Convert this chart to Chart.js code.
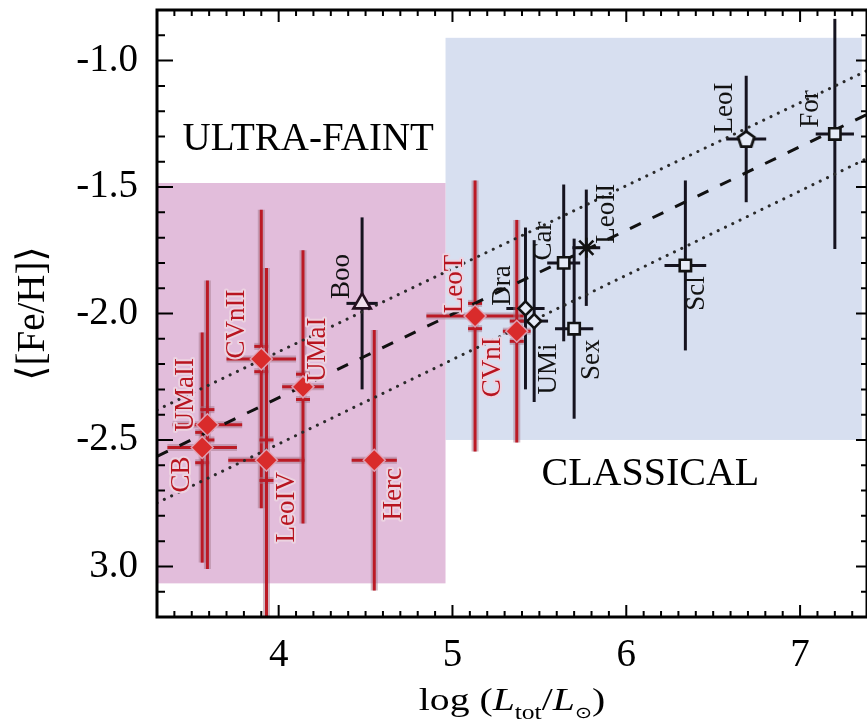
<!DOCTYPE html>
<html>
<head>
<meta charset="utf-8">
<script src="https://cdn.jsdelivr.net/npm/chart.js@4.4.1/dist/chart.umd.min.js"></script>
<style>
  html, body { margin: 0; padding: 0; background: #fff; }
  canvas { display: block; }
</style>
</head>
<body>
<canvas id="chart" width="867" height="723"></canvas>
<script>
// Ultra-faint dwarfs: log(L_tot/L_sun), mean [Fe/H] and their errors
const ufdNames     = ['CB', 'UMaII', 'CVnII', 'LeoIV', 'UMaI', 'Herc', 'LeoT', 'CVnI'];
const ufdLogL      = [3.56, 3.59, 3.90, 3.93, 4.14, 4.55, 5.13, 5.37];
const ufdFeH       = [-2.53, -2.44, -2.18, -2.58, -2.29, -2.58, -2.01, -2.07];
const ufdLogLErr   = [0.20, 0.20, 0.20, 0.22, 0.12, 0.13, 0.28, 0.08];
const ufdFeHErr    = [0.455, 0.57, 0.59, 0.76, 0.54, 0.515, 0.536, 0.44];
const ufdFeHErrSys = [0.06, 0.06, 0.05, 0.08, 0.05, 0.00, 0.05, 0.04];

// Classical dwarfs (and Bootes I)
const clsNames     = ['Boo', 'Dra', 'UMi', 'Car', 'LeoII', 'Sex', 'Scl', 'LeoI', 'For'];
const clsLogL      = [4.48, 5.42, 5.47, 5.64, 5.77, 5.70, 6.34, 6.69, 7.20];
const clsFeH       = [-1.96, -1.98, -2.03, -1.80, -1.74, -2.06, -1.81, -1.31, -1.29];
const clsLogLErr   = [0.09, 0.11, 0.08, 0.095, 0.08, 0.11, 0.12, 0.115, 0.11];
const clsFeHErr    = [0.34, 0.32, 0.32, 0.31, 0.23, 0.356, 0.336, 0.25, 0.455];

// Luminosity-metallicity relation and its scatter envelope (end points)
const relLogL      = [3.3, 7.385];
const relFeH       = [-2.565, -1.213];
const relUpperFeH  = [-2.381, -1.040];
const relLowerFeH  = [-2.749, -1.387];

// Shaded regimes
const ufdBoxLogL   = [3.3, 4.96];
const ufdBoxFeH    = [-3.067, -1.484];
const clsBoxLogL   = [4.96, 7.355];
const clsBoxFeH    = [-2.50, -0.91];

// Axis ticks
const xTickValues  = [4, 5, 6, 7];
const xTickLabels  = ['4', '5', '6', '7'];
const yTickValues  = [-3.0, -2.5, -2.0, -1.5, -1.0];
const yTickLabels  = ['3.0', '-2.5', '-2.0', '-1.5', '-1.0'];

// ---- styling -------------------------------------------------------------
const SERIF = '"Liberation Serif", "Times New Roman", "DejaVu Serif", serif';
const RED = '#bb1a25';
const RED_FILL = '#d92b2b';
const INK = '#121212';
const PINK_BG = '#e2bddb';
const BLUE_BG = '#d7dff0';

// label centre offsets from each marker, in pixels
const ufdLabelOffset = [[-20, 27], [-21, -30], [-24, -35], [20, 47], [15, -37], [20, 34], [-20, -32], [-24, 36]];
const clsLabelOffset = [[-20, -27], [-23, -23], [15, 48], [-20, -22], [21, -34], [18, 31], [12, 28], [-21, -31], [-24, -25]];

const regimeText = [
  { text: 'ULTRA-FAINT', x: 3.447, y: -1.352, size: 39 },
  { text: 'CLASSICAL',   x: 5.512, y: -2.678, size: 40 }
];

// open pentagon marker
const pentagon = (() => {
  const s = 26, c = document.createElement('canvas');
  c.width = s; c.height = s;
  const g = c.getContext('2d');
  g.beginPath();
  for (let i = 0; i < 5; i++) {
    const a = -Math.PI / 2 + i * 2 * Math.PI / 5;
    const px = s / 2 + 8.5 * Math.cos(a), py = s / 2 + 0.8 + 8.5 * Math.sin(a);
    if (i) g.lineTo(px, py); else g.moveTo(px, py);
  }
  g.closePath();
  g.fillStyle = '#e6ebf6';
  g.fill();
  g.lineWidth = 2.8;
  g.strokeStyle = INK;
  g.stroke();
  return c;
})();

const clsStyle  = ['triangle', 'rectRot', 'rectRot', 'rect', 'star', 'rect', 'rect', pentagon, 'rect'];
const clsRadius = [10, 7, 7, 8, 10, 8, 8, 12, 8];
const clsFill   = ['#efdfeb', '#e6ebf6', '#e6ebf6', '#e6ebf6', INK, '#e6ebf6', '#e6ebf6', '#e6ebf6', '#e6ebf6'];
const clsBorder = ['#24101f', INK, INK, INK, INK, INK, INK, INK, INK];

// ---- plugins ---------------------------------------------------------------
const backdrop = {
  id: 'backdrop',
  beforeDatasetsDraw(chart) {
    const { ctx, chartArea: a, scales: { x, y } } = chart;
    ctx.save();
    ctx.beginPath();
    ctx.rect(a.left, a.top, a.right - a.left, a.bottom - a.top);
    ctx.clip();

    const box = (lx, fy, color) => {
      const x0 = x.getPixelForValue(lx[0]), x1 = x.getPixelForValue(lx[1]);
      const y0 = y.getPixelForValue(fy[1]), y1 = y.getPixelForValue(fy[0]);
      ctx.fillStyle = color;
      ctx.fillRect(x0, y0, x1 - x0, y1 - y0);
    };
    box(clsBoxLogL, clsBoxFeH, BLUE_BG);
    box(ufdBoxLogL, ufdBoxFeH, PINK_BG);

    ctx.fillStyle = '#000';
    ctx.textBaseline = 'alphabetic';
    ctx.textAlign = 'left';
    regimeText.forEach(t => {
      ctx.font = t.size + 'px ' + SERIF;
      ctx.fillText(t.text, x.getPixelForValue(t.x), y.getPixelForValue(t.y));
    });

    const seg = (x0, y0, x1, y1) => { ctx.beginPath(); ctx.moveTo(x0, y0); ctx.lineTo(x1, y1); ctx.stroke(); };
    const bars = (lx, fy, ex, ey, sys, color, width, halo) => {
      lx.forEach((v, i) => {
        const px = x.getPixelForValue(v), py = y.getPixelForValue(fy[i]);
        const xl = x.getPixelForValue(v - ex[i]), xr = x.getPixelForValue(v + ex[i]);
        const yt = y.getPixelForValue(fy[i] + ey[i]), yb = y.getPixelForValue(fy[i] - ey[i]);
        const passes = halo ? [[halo, width + 4], [color, width]] : [[color, width]];
        passes.forEach(([c, w]) => {
          ctx.strokeStyle = c;
          ctx.lineWidth = w;
          ctx.lineCap = 'butt';
          seg(px, yt, px, yb);
          seg(xl, py, xr, py);
          if (sys && sys[i] > 0) {
            const ys1 = y.getPixelForValue(fy[i] + sys[i]), ys2 = y.getPixelForValue(fy[i] - sys[i]);
            seg(px - 7, ys1, px + 7, ys1);
            seg(px - 7, ys2, px + 7, ys2);
          }
        });
      });
    };
    bars(clsLogL, clsFeH, clsLogLErr, clsFeHErr, null, '#15131f', 3, null);
    bars(ufdLogL, ufdFeH, ufdLogLErr, ufdFeHErr, ufdFeHErrSys, RED, 3, 'rgba(165,120,140,0.5)');
    ctx.restore();
  }
};

const labels = {
  id: 'labels',
  afterDatasetsDraw(chart) {
    const { ctx, scales: { x, y } } = chart;
    const draw = (names, lx, fy, off, color, halo) => {
      names.forEach((n, i) => {
        const cx = x.getPixelForValue(lx[i]) + off[i][0];
        const cy = y.getPixelForValue(fy[i]) + off[i][1];
        ctx.save();
        ctx.translate(cx, cy);
        ctx.rotate(-Math.PI / 2);
        ctx.font = '27px ' + SERIF;
        ctx.textAlign = 'center';
        ctx.textBaseline = 'middle';
        if (halo) {
          ctx.lineJoin = 'round';
          ctx.lineWidth = 4;
          ctx.strokeStyle = halo;
          ctx.strokeText(n, 0, 0);
        }
        ctx.fillStyle = color;
        ctx.fillText(n, 0, 0);
        ctx.restore();
      });
    };
    draw(ufdNames, ufdLogL, ufdFeH, ufdLabelOffset, '#b8141f', 'rgba(236,212,226,0.95)');
    draw(clsNames, clsLogL, clsFeH, clsLabelOffset, INK, null);
  }
};

const frame = {
  id: 'frame',
  afterDraw(chart) {
    const { ctx, chartArea: a, scales: { x, y } } = chart;
    ctx.save();
    ctx.strokeStyle = '#000';
    ctx.lineCap = 'butt';
    // inward tick marks, every 0.1
    ctx.lineWidth = 2;
    for (let k = 33; k <= 73; k++) {
      const v = k / 10, px = x.getPixelForValue(v);
      if (px < a.left || px > a.right) continue;
      const major = k % 10 === 0;
      ctx.beginPath();
      ctx.moveTo(px, a.bottom); ctx.lineTo(px, a.bottom - (major ? 12 : 6));
      ctx.moveTo(px, a.top); ctx.lineTo(px, a.top + (major ? 12 : 6));
      ctx.stroke();
    }
    for (let k = -32; k <= -8; k++) {
      const v = k / 10, py = y.getPixelForValue(v);
      const major = k % 5 === 0;
      ctx.beginPath();
      ctx.moveTo(a.left, py); ctx.lineTo(a.left + (major ? 16 : 8), py);
      ctx.moveTo(a.right, py); ctx.lineTo(a.right - (major ? 11 : 6), py);
      ctx.stroke();
    }
    ctx.lineWidth = 3;
    ctx.strokeRect(a.left, a.top, a.right - a.left, a.bottom - a.top);

    // x-axis title: log (L_tot / L_sun), set wide
    const big = '31px ' + SERIF, bigIt = 'italic 31px ' + SERIF, small = '20px ' + SERIF;
    const sun = '16px "DejaVu Sans", sans-serif';
    const parts = [
      ['log (', big, 0], ['L', bigIt, 0], ['tot', small, 9],
      ['/', big, 0], ['L', bigIt, 0], ['\u2299', sun, 8], [')', big, 0]
    ];
    const stretch = 1.28;
    let total = 0;
    parts.forEach(p => { ctx.font = p[1]; total += ctx.measureText(p[0]).width; });
    ctx.translate((a.left + a.right) / 2 - total * stretch / 2, 710);
    ctx.scale(stretch, 1);
    let cx = 0;
    ctx.fillStyle = '#000';
    ctx.textBaseline = 'alphabetic';
    ctx.textAlign = 'left';
    parts.forEach(p => {
      ctx.font = p[1];
      ctx.fillText(p[0], cx, p[2]);
      cx += ctx.measureText(p[0]).width;
    });
    ctx.restore();
  }
};

// ---- chart -----------------------------------------------------------------
const line = (fy, dash, width, cap, color) => ({
  type: 'line',
  data: relLogL.map((v, i) => ({ x: v, y: fy[i] })),
  borderColor: color, borderWidth: width, borderDash: dash, borderCapStyle: cap,
  pointRadius: 0, fill: false, order: 3
});

new Chart(document.getElementById('chart'), {
  type: 'scatter',
  data: {
    datasets: [
      line(relFeH, [12, 13], 3, 'butt', '#111'),
      line(relUpperFeH, [0.1, 8], 3, 'round', '#2a2a2a'),
      line(relLowerFeH, [0.1, 8], 3, 'round', '#2a2a2a'),
      {
        data: clsLogL.map((v, i) => ({ x: v, y: clsFeH[i] })),
        pointStyle: clsStyle, pointRadius: clsRadius,
        backgroundColor: clsFill, borderColor: clsBorder, borderWidth: 2.6,
        order: 1
      },
      {
        data: ufdLogL.map((v, i) => ({ x: v, y: ufdFeH[i] })),
        pointStyle: 'rectRot', pointRadius: 11,
        backgroundColor: RED_FILL, borderColor: 'rgba(225,170,190,0.9)', borderWidth: 1.5,
        order: 0
      }
    ]
  },
  options: {
    responsive: false,
    animation: false,
    events: [],
    layout: { autoPadding: false, padding: { top: 10, right: 0, bottom: 0, left: 0 } },
    plugins: { legend: { display: false }, tooltip: { enabled: false } },
    scales: {
      x: {
        type: 'linear', min: 3.3, max: 7.385,
        afterBuildTicks: s => { s.ticks = xTickValues.map(v => ({ value: v })); },
        afterFit: s => { s.height = 106; s.paddingLeft = 0; s.paddingRight = 0; },
        grid: { display: false }, border: { display: false },
        ticks: {
          callback: (v, i) => xTickLabels[i],
          font: { family: SERIF, size: 39 }, color: '#000',
          padding: 7, maxRotation: 0, autoSkip: false
        }
      },
      y: {
        type: 'linear', min: -3.2, max: -0.8,
        afterBuildTicks: s => { s.ticks = yTickValues.map(v => ({ value: v })); },
        afterFit: s => { s.width = 157; s.paddingTop = 0; s.paddingBottom = 0; },
        grid: { display: false }, border: { display: false },
        ticks: {
          callback: (v, i) => yTickLabels[i],
          font: { family: SERIF, size: 39 }, color: '#000', padding: 11, autoSkip: false
        },
        title: {
          display: true, text: '\u27E8[Fe/H]\u27E9',
          font: { family: SERIF, size: 39 }, color: '#000',
          padding: { top: 10, bottom: 0 }
        }
      }
    }
  },
  plugins: [backdrop, labels, frame]
});
</script>
</body>
</html>
